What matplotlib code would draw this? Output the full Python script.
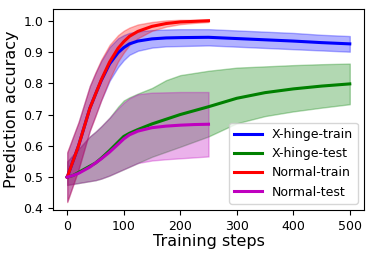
import numpy as np
import matplotlib
matplotlib.use('Agg')
import matplotlib.pyplot as plt

# Training steps and accuracy curves
steps_long = [0, 10, 20, 30, 40, 50, 60, 75, 90, 100, 110, 125, 150, 175, 200,
              250, 300, 350, 400, 450, 500]
xh_train = [0.50, 0.55, 0.60, 0.66, 0.72, 0.765, 0.808, 0.862, 0.898, 0.914, 0.926,
            0.935, 0.942, 0.945, 0.946, 0.947, 0.943, 0.939, 0.935, 0.930, 0.926]
xh_train_sd = [0.078, 0.077, 0.075, 0.073, 0.071, 0.068, 0.063, 0.054, 0.046, 0.04, 0.035,
               0.031, 0.028, 0.027, 0.027, 0.026, 0.026, 0.026, 0.026, 0.025, 0.025]

xh_test = [0.50, 0.505, 0.515, 0.525, 0.535, 0.545, 0.56, 0.585, 0.612, 0.63, 0.64,
           0.652, 0.67, 0.685, 0.70, 0.725, 0.752, 0.77, 0.782, 0.791, 0.798]
xh_test_lo = [0.475, 0.478, 0.481, 0.484, 0.487, 0.49, 0.495, 0.505, 0.517, 0.525, 0.533,
              0.545, 0.565, 0.581, 0.597, 0.63, 0.672, 0.695, 0.71, 0.722, 0.733]
xh_test_hi = [0.55, 0.57, 0.59, 0.61, 0.63, 0.645, 0.662, 0.69, 0.725, 0.745, 0.755,
              0.767, 0.785, 0.81, 0.826, 0.84, 0.85, 0.854, 0.858, 0.861, 0.863]

steps_short = [0, 10, 20, 30, 40, 50, 60, 75, 90, 100, 110, 125, 150, 175, 200, 225, 250]
nm_train = [0.50, 0.55, 0.60, 0.66, 0.72, 0.765, 0.81, 0.868, 0.912, 0.933, 0.95,
            0.966, 0.982, 0.991, 0.996, 0.998, 1.0]
nm_train_sd = [0.08, 0.078, 0.076, 0.074, 0.072, 0.07, 0.065, 0.055, 0.042, 0.035, 0.028,
               0.022, 0.014, 0.01, 0.007, 0.005, 0.004]

nm_test = [0.50, 0.505, 0.512, 0.522, 0.532, 0.545, 0.558, 0.58, 0.605, 0.622, 0.635,
           0.647, 0.658, 0.663, 0.666, 0.668, 0.669]
nm_test_lo = [0.475, 0.478, 0.481, 0.484, 0.487, 0.49, 0.495, 0.505, 0.517, 0.525, 0.533,
              0.545, 0.553, 0.557, 0.56, 0.563, 0.566]
nm_test_hi = [0.55, 0.57, 0.59, 0.61, 0.63, 0.645, 0.662, 0.69, 0.72, 0.738, 0.752,
              0.765, 0.77, 0.771, 0.772, 0.772, 0.772]

fig = plt.figure(figsize=(3.74, 2.56), dpi=100)
ax = fig.add_axes([0.142, 0.18, 0.831, 0.783])

xl = np.array(steps_long)
xs = np.array(steps_short)
a_tr = np.array(xh_train)
a_sd = np.array(xh_train_sd)
n_tr = np.array(nm_train)
n_sd = np.array(nm_train_sd)

# bands first, lines on top
ax.fill_between(xl, a_tr - a_sd, a_tr + a_sd, color='blue', alpha=0.3)
ax.fill_between(xl, xh_test_lo, xh_test_hi, color='green', alpha=0.3)
ax.fill_between(xs, n_tr - n_sd, np.minimum(n_tr + n_sd, 1.005), color='red', alpha=0.3)
ax.fill_between(xs, nm_test_lo, nm_test_hi, color='m', alpha=0.3)

ax.plot(xl, xh_train, color='blue', lw=2.2, label='X-hinge-train')
ax.plot(xl, xh_test, color='green', lw=2.2, label='X-hinge-test')
ax.plot(xs, nm_train, color='red', lw=2.2, label='Normal-train')
ax.plot(xs, nm_test, color='m', lw=2.2, label='Normal-test')

ax.set_xlim(-25, 525)
ax.set_ylim(0.395, 1.036)
ax.set_xticks(np.arange(0, 501, 100))
ax.set_yticks(np.arange(0.4, 1.01, 0.1))
ax.tick_params(labelsize=9)
ax.set_xlabel('Training steps', fontsize=11.5, labelpad=1)
ax.set_ylabel('Prediction accuracy', fontsize=11.5, labelpad=3)
ax.legend(loc='lower right', fontsize=9, handlelength=2.2)

plt.savefig('out.png', dpi=100)
